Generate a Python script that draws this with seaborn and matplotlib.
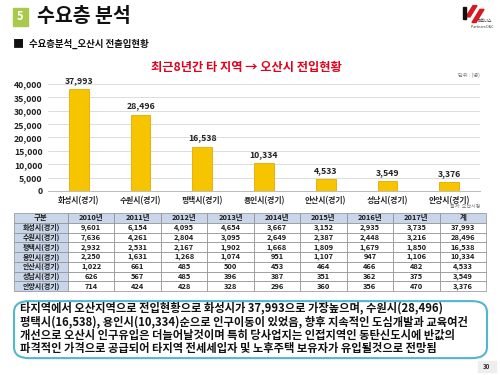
import matplotlib.pyplot as plt
import matplotlib.patches as mpatches
import seaborn as sns
import pandas as pd

# data
regions = ['화성시(경기)', '수원시(경기)', '평택시(경기)', '용인시(경기)',
           '안산시(경기)', '성남시(경기)', '안양시(경기)']
years = ['2010년', '2011년', '2012년', '2013년', '2014년', '2015년', '2016년', '2017년']
hwaseong = [9601, 6154, 4095, 4654, 3667, 3152, 2935, 3735]
suwon = [7636, 4261, 2804, 3095, 2649, 2387, 2448, 3216]
pyeongtaek = [2932, 2531, 2167, 1902, 1668, 1809, 1679, 1850]
yongin = [2250, 1631, 1268, 1074, 951, 1107, 947, 1106]
ansan = [1022, 661, 485, 500, 453, 464, 466, 482]
seongnam = [626, 567, 485, 396, 387, 351, 362, 375]
anyang = [714, 424, 428, 328, 296, 360, 356, 470]
totals = [37993, 28496, 16538, 10334, 4533, 3549, 3376]
yticks = [0, 5000, 10000, 15000, 20000, 25000, 30000, 35000, 40000]

summary = [
    '타지역에서 오산지역으로 전입현황으로 화성시가 37,993으로 가장높으며, 수원시(28,496)',
    '평택시(16,538), 용인시(10,334)순으로 인구이동이 있었음, 향후 지속적인 도심개발과 교육여건',
    '개선으로 오산시 인구유입은 더늘어날것이며 특히 당사업지는 인접지역인 동탄신도시에 반값의',
    '파격적인 가격으로 공급되어 타지역 전세세입자 및 노후주택 보유자가 유입될것으로 전망됨',
]

sns.set_theme(style="white")
plt.rcParams['font.family'] = ['Noto Sans CJK KR', 'DejaVu Sans']
plt.rcParams['axes.unicode_minus'] = False

fig = plt.figure(figsize=(5, 3.75), dpi=100)
fig.patch.set_facecolor('white')

# header
fig.patches.append(mpatches.Rectangle((0.026, 0.932), 0.03, 0.046, transform=fig.transFigure,
                                      color='#a9c94c', zorder=1))
fig.text(0.041, 0.955, '5', color='white', fontsize=8, fontweight='bold', ha='center', va='center')
fig.text(0.074, 0.955, '수요층 분석', fontsize=14, fontweight='bold', ha='left', va='center', color='#111111')
fig.text(0.026, 0.882, '■', fontsize=8, ha='left', va='center', color='#111111')
fig.text(0.058, 0.882, '수요층분석_오산시 전출입현황', fontsize=6.8, fontweight='bold',
         ha='left', va='center', color='#111111')

# logo
fig.patches.append(mpatches.Polygon([[0.932, 0.955], [0.946, 0.985], [0.954, 0.985], [0.940, 0.955]],
                                    closed=True, transform=fig.transFigure, color='#d71920'))
fig.patches.append(mpatches.Polygon([[0.944, 0.940], [0.960, 0.975], [0.968, 0.975], [0.952, 0.940]],
                                    closed=True, transform=fig.transFigure, color='#d71920'))
fig.patches.append(mpatches.Rectangle((0.926, 0.95), 0.006, 0.03, transform=fig.transFigure, color='#111111'))
fig.text(0.985, 0.945, '파트너스', fontsize=2.8, ha='right', va='center', color='#333333')
fig.text(0.988, 0.927, 'Partners D&C', fontsize=2.6, ha='right', va='center', color='#333333')

# bar chart
ax = fig.add_axes([0.096, 0.4907, 0.864, 0.2853])
df = pd.DataFrame({'region': regions, 'total': totals})
sns.barplot(data=df, x='region', y='total', color='#f7c500', width=0.32, saturation=1,
            edgecolor='#e3a900', linewidth=0.6, ax=ax, zorder=3)
for i, v in enumerate(totals):
    ax.annotate(f'{v:,}', (i, v), xytext=(0, 3), textcoords='offset points', ha='center', va='bottom',
                fontsize=6.3, fontweight='bold', color='#222222')
ax.set_ylim(0, 40000)
ax.set_xlim(-0.5, 6.5)
ax.set_yticks(yticks)
ax.set_yticklabels([f'{t:,}' for t in yticks], fontsize=6.3, fontweight='bold', color='#222222')
ax.set_xticks(range(len(regions)))
ax.set_xticklabels(regions, fontsize=5.6, fontweight='bold', color='#222222')
ax.tick_params(axis='both', length=0, pad=4)
ax.set_xlabel('')
ax.set_ylabel('')
ax.yaxis.grid(True, color='#dcdcdc', linewidth=0.7, zorder=0)
for s in ['top', 'right', 'left']:
    ax.spines[s].set_visible(False)
ax.spines['bottom'].set_color('#bbbbbb')
ax.spines['bottom'].set_linewidth(0.7)

fig.text(0.492, 0.82, '최근8년간 타 지역 → 오산시 전입현황', fontsize=8.8, fontweight='bold',
         color='#e2001a', ha='center', va='center')
fig.text(0.96, 0.80, '단위 : (명)', fontsize=3.8, color='#777777', ha='right', va='center')
fig.text(0.96, 0.448, '출처: 오산시청', fontsize=3.6, color='#777777', ha='right', va='center')

# table
tax = fig.add_axes([0.028, 0.224, 0.944, 0.208])
tax.axis('off')
rows = [hwaseong, suwon, pyeongtaek, yongin, ansan, seongnam, anyang]
cell_text = [[regions[i]] + [f'{v:,}' for v in r] + [f'{totals[i]:,}'] for i, r in enumerate(rows)]
col_labels = ['구분'] + years + ['계']
first_w = 54 / 472
other_w = (1 - first_w) / 9
tbl = tax.table(cellText=cell_text, colLabels=col_labels, cellLoc='center', bbox=[0, 0, 1, 1],
                colWidths=[first_w] + [other_w] * 9)
tbl.auto_set_font_size(False)
for (r, c), cell in tbl.get_celld().items():
    cell.set_edgecolor('#8c8c8c')
    cell.set_linewidth(0.5)
    cell.PAD = 0.02
    cell.get_text().set_fontsize(5.0 if c == 0 and r > 0 else 5.4)
    cell.get_text().set_fontweight('bold')
    cell.get_text().set_color('#1a1a1a')
    if r == 0 or c == 0:
        cell.set_facecolor('#c9d6ea')
    else:
        cell.set_facecolor('white')

# summary box
box = mpatches.FancyBboxPatch((0.028, 0.045), 0.946, 0.152, boxstyle='round,pad=0,rounding_size=0.03',
                              transform=fig.transFigure, facecolor='white', edgecolor='#54b6cc',
                              linewidth=1.5)
fig.patches.append(box)
for k, line in enumerate(summary):
    fig.text(0.04, 0.178 - k * 0.036, line, fontsize=8.1, fontweight='bold', color='#111111',
             ha='left', va='center')

# page number
fig.patches.append(mpatches.Rectangle((0.955, 0.008), 0.036, 0.03, transform=fig.transFigure,
                                      color='#eeeeee'))
fig.text(0.973, 0.023, '30', fontsize=4.5, fontweight='bold', color='#333333', ha='center', va='center')

plt.savefig('out.png', dpi=100)
